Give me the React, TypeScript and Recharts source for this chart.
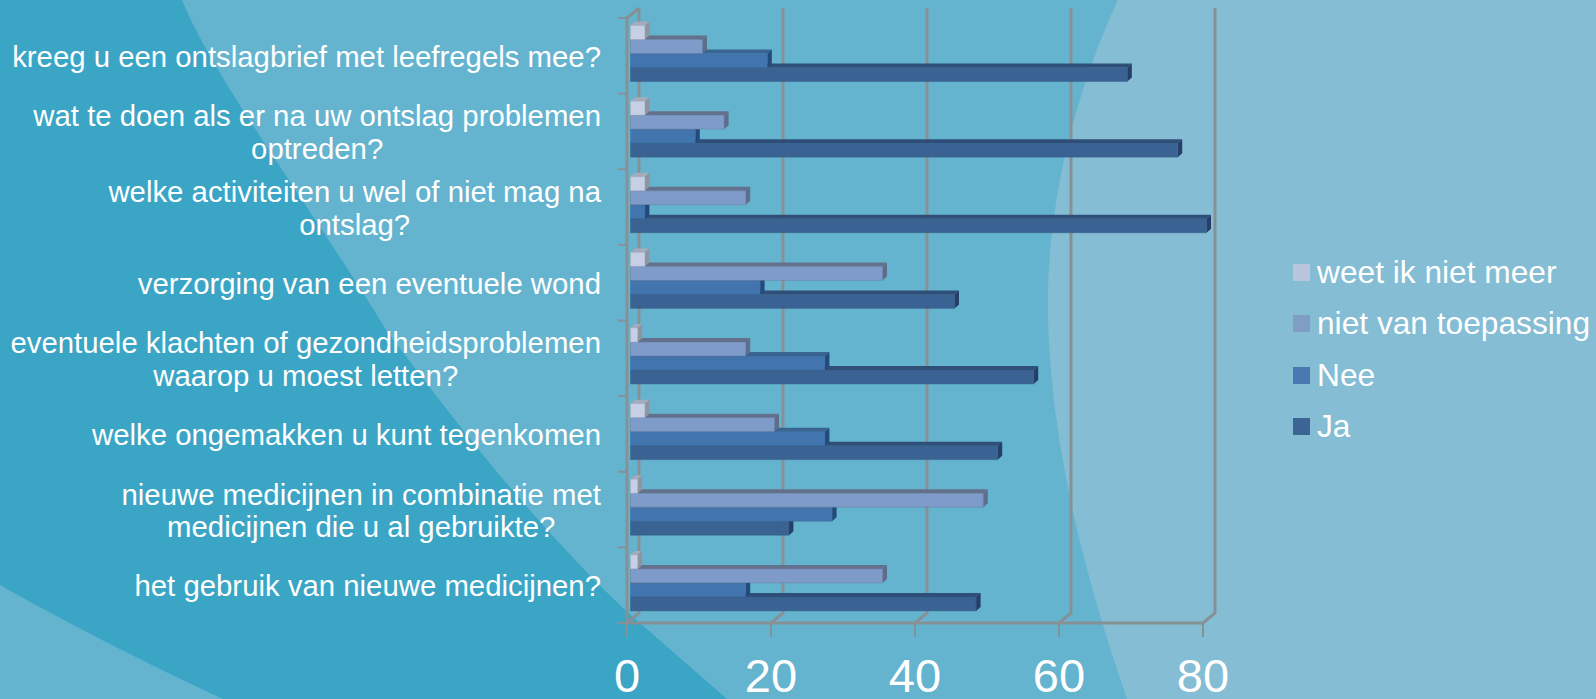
import { Bar, BarChart, CartesianGrid, Legend, XAxis, YAxis } from 'recharts';

const WIDTH = 1596;
const HEIGHT = 699;
const FONT = '"Liberation Sans", Arial, sans-serif';
const GRID = '#869196';

// one entry per category, each line of the wrapped label separately
const categoryLines = [
  ['kreeg u een ontslagbrief met leefregels mee?'],
  ['wat te doen als er na uw ontslag problemen', 'optreden?'],
  ['welke activiteiten u wel of niet mag na', 'ontslag?'],
  ['verzorging van een eventuele wond'],
  ['eventuele klachten of gezondheidsproblemen', 'waarop u moest letten?'],
  ['welke ongemakken u kunt tegenkomen'],
  ['nieuwe medicijnen in combinatie met', 'medicijnen die u al gebruikte?'],
  ['het gebruik van nieuwe medicijnen?'],
];

const weetValues = [2, 2, 2, 2, 1, 2, 1, 1];
const nietValues = [10, 13, 16, 35, 16, 20, 49, 35];
const neeValues = [19, 9, 2, 18, 27, 27, 28, 16];
const jaValues = [69, 76, 80, 45, 56, 51, 22, 48];

const xTicks = [0, 20, 40, 60, 80];

const chartData = categoryLines.map((lines, i) => ({
  category: lines.join(' '),
  ja: jaValues[i],
  nee: neeValues[i],
  niet: nietValues[i],
  weet: weetValues[i],
}));

// painted back to front: the lowest bar first, so the bar above it hides its top face
const seriesStyles = [
  { key: 'ja', name: 'Ja', face: '#3a6393', top: '#2f4f78', side: '#253f68', swatch: '#3c6495' },
  { key: 'nee', name: 'Nee', face: '#4275ae', top: '#3a6491', side: '#234a7c', swatch: '#4a79b1' },
  { key: 'niet', name: 'niet van toepassing', face: '#7f9bc9', top: '#64718c', side: '#5f6d8c', swatch: '#809dc6' },
  { key: 'weet', name: 'weet ik niet meer', face: '#c6cfe4', top: '#a6abbb', side: '#8d94a2', swatch: '#b8c5dc' },
];

const DEPTH_X = 4.5;
const DEPTH_Y = 4;

function Bar3D({ x, y, width, height, rank, style }: any) {
  // Recharts stacks the series in declared order, flip them inside the band
  const top = y + (3 - 2 * rank) * height - 2.5;
  const left = x + 3.5;
  const right = left + width;
  const bottom = top + height;
  return (
    <g>
      <polygon
        points={`${left},${top} ${left + DEPTH_X},${top - DEPTH_Y} ${right + DEPTH_X},${top - DEPTH_Y} ${right},${top}`}
        fill={style.top}
      />
      <polygon
        points={`${right},${top} ${right + DEPTH_X},${top - DEPTH_Y} ${right + DEPTH_X},${bottom - DEPTH_Y} ${right},${bottom}`}
        fill={style.side}
      />
      <rect x={left} y={top} width={width} height={height} fill={style.face} stroke={style.top} strokeOpacity={0.35} />
    </g>
  );
}

const measureCtx = document.createElement('canvas').getContext('2d')!;

function CategoryTick({ y, index }: any) {
  const lines = categoryLines[index];
  const fontSize = 29.35;
  const step = 605 / categoryLines.length;
  measureCtx.font = `${fontSize}px "Liberation Sans"`;
  const longest = Math.max(...lines.map((l) => measureCtx.measureText(l).width));
  const centerX = 601 - longest / 2;
  const lineHeight = 32.5;
  const firstY = y + 1 - ((lines.length - 1) * lineHeight) / 2;
  return (
    <g>
      <line x1={618} x2={627} y1={y - step / 2} y2={y - step / 2} stroke={GRID} strokeWidth={2} />
      {index === categoryLines.length - 1 && (
        <line x1={618} x2={627} y1={y + step / 2} y2={y + step / 2} stroke={GRID} strokeWidth={2} />
      )}
      {lines.map((line, i) => (
        <text
          key={line}
          x={centerX}
          y={firstY + i * lineHeight}
          dy="0.35em"
          textAnchor="middle"
          fontSize={fontSize}
          fontFamily={FONT}
          fill="#fff"
        >
          {line}
        </text>
      ))}
    </g>
  );
}

function BackWallLine({ x1, y1, y2, index }: any) {
  const dx = 12;
  const dy = 10;
  return (
    <g fill="none" stroke={GRID} strokeWidth={3}>
      <path d={`M${x1 + dx},${y1 - dy} L${x1 + dx},${y2 - dy} L${x1},${y2}`} />
      {index === 0 && <path d={`M${x1},${y1} L${x1 + dx},${y1 - dy}`} />}
    </g>
  );
}

function LegendList({ payload }: any) {
  const items = [...(payload ?? [])].reverse();
  return (
    <div style={{ fontFamily: FONT, fontSize: 31.7, color: '#fff' }}>
      {items.map((item: any) => (
        <div key={item.value} style={{ display: 'flex', alignItems: 'center', height: 51.3, whiteSpace: 'nowrap' }}>
          <span style={{ width: 17, height: 17, marginRight: 7, background: item.color, flex: 'none' }} />
          {item.value}
        </div>
      ))}
    </div>
  );
}

function Backdrop() {
  return (
    <svg width={WIDTH} height={HEIGHT} style={{ position: 'absolute', left: 0, top: 0 }}>
      <rect width={WIDTH} height={HEIGHT} fill="#65b4cf" />
      <path
        d="M182,0 C215,80 300,190 388,333 C440,400 520,510 625,610 L727,699 L0,699 L0,0 Z"
        fill="#3ba5c5"
      />
      <path d="M0,585 C80,630 160,670 223,699 L0,699 Z" fill="#65b4cf" />
      <path
        d="M1118,0 C1085,70 1045,190 1048,317 C1050,400 1065,520 1127,699 L1596,699 L1596,0 Z"
        fill="#84bdd4"
      />
    </svg>
  );
}

export default function App() {
  return (
    <div style={{ position: 'absolute', left: 0, top: 0, width: WIDTH, height: HEIGHT, overflow: 'hidden' }}>
      <Backdrop />
      <BarChart
        width={WIDTH}
        height={HEIGHT}
        data={chartData}
        layout="vertical"
        margin={{ top: 18, right: 393, bottom: 0, left: 0 }}
        barSize={14}
        barGap={0}
        style={{ position: 'absolute', left: 0, top: 0, fontFamily: FONT }}
      >
        <CartesianGrid horizontal={false} vertical={(props: any) => <BackWallLine key={props.key} {...props} />} />
        <XAxis
          type="number"
          domain={[0, 80]}
          ticks={xTicks}
          height={76}
          interval={0}
          tickSize={14}
          tickMargin={22}
          axisLine={{ stroke: GRID, strokeWidth: 3 }}
          tickLine={{ stroke: GRID, strokeWidth: 2 }}
          tick={{ fill: '#fff', fontSize: 47, fontFamily: FONT }}
        />
        <YAxis
          type="category"
          dataKey="category"
          width={627}
          interval={0}
          tickLine={false}
          axisLine={{ stroke: GRID, strokeWidth: 3 }}
          tick={<CategoryTick />}
        />
        {seriesStyles.map((s, rank) => (
          <Bar
            key={s.key}
            dataKey={s.key}
            name={s.name}
            fill={s.swatch}
            isAnimationActive={false}
            shape={(props: any) => <Bar3D {...props} rank={rank} style={s} />}
          />
        ))}
        <Legend
          layout="vertical"
          align="center"
          verticalAlign="middle"
          content={<LegendList />}
          wrapperStyle={{ left: 1293, top: 247, width: 303, bottom: 'auto', right: 'auto' }}
        />
      </BarChart>
    </div>
  );
}
